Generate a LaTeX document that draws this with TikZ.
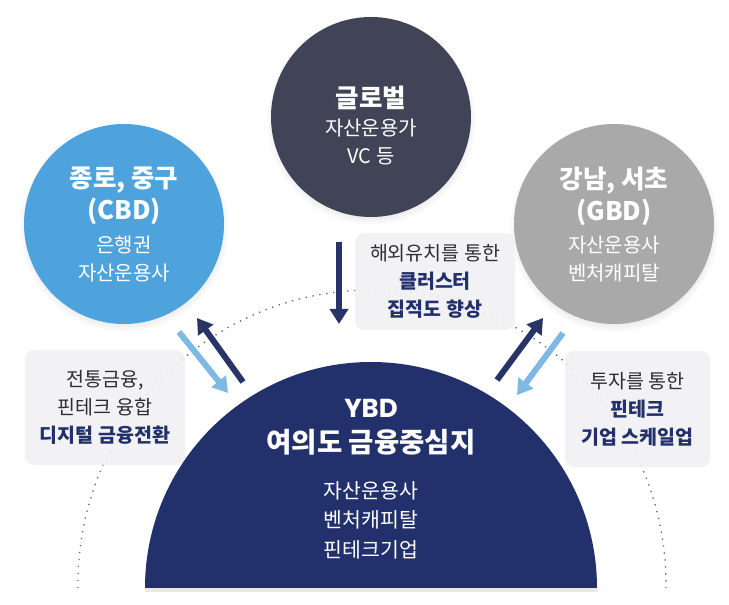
\documentclass[tikz,border=0pt]{standalone}
\usepackage{fontspec}
\setmainfont{Noto Sans CJK KR}
\newfontfamily\latinhead{Poppins}
\usetikzlibrary{arrows.meta,shadows}
\definecolor{navy}{HTML}{22306B}
\definecolor{darkarrow}{HTML}{283466}
\definecolor{lightarrow}{HTML}{7DB9E3}
\definecolor{cbdblue}{HTML}{4EA3DD}
\definecolor{gbdgrey}{HTML}{A9A9A9}
\definecolor{globalgrey}{HTML}{404456}
\definecolor{boxgrey}{HTML}{F1F1F3}
\definecolor{textdark}{HTML}{2E2E2E}
\definecolor{dotcol}{HTML}{5C6078}
\tikzset{
  bubble/.style={circle, minimum size=200pt, inner sep=0pt,
    circular drop shadow={shadow xshift=0pt, shadow yshift=-3pt, shadow scale=1.05, opacity=0.25}},
  bubtitle/.style={text=white, align=center, font=\bfseries\fontsize{25.5}{32}\selectfont},
  bubsub/.style={text=white, align=center, font=\fontsize{20}{28}\selectfont},
  infobox/.style={rectangle, rounded corners=9pt, fill=boxgrey, fill opacity=0.9, text opacity=1,
    inner sep=0pt, text=textdark, align=center, font=\fontsize{19.5}{28}\selectfont},
  darr/.style={draw=darkarrow, line width=6pt, -{Triangle[width=18pt,length=15pt]}},
  larr/.style={draw=lightarrow, line width=6pt, -{Triangle[width=18pt,length=15pt]}},
  dotline/.style={draw=dotcol, line width=1.3pt, dash pattern=on 1.3pt off 5.7pt},
}
\newcommand{\hlt}[1]{{\bfseries\color{navy}#1}}
\begin{document}
\begin{tikzpicture}[x=1pt,y=1pt]
\fill[white] (0,0) rectangle (729,605);
\useasboundingbox (0,0) rectangle (729,605);

% dotted arc
\draw[dotline] (78.03,16.9) arc[start angle=180.8, end angle=-0.8, radius=294];

% semicircle YBD
\fill[navy, drop shadow={opacity=0.18, shadow xshift=0pt, shadow yshift=-4pt}]
  (145,17) arc[start angle=180, end angle=0, radius=226] -- cycle;
\node[text=white, font=\latinhead\bfseries\fontsize{26}{30}\selectfont] (ybd) at (371,197) {YBD};
\node[text=white, font=\bfseries\fontsize{27.5}{34}\selectfont] (ybdname) at (371,163) {여의도 금융중심지};
\node[text=white, align=center, font=\fontsize{20.5}{29.5}\selectfont] (ybdlist) at (371,85) {자산운용사\\벤처캐피탈\\핀테크기업};

% circles
\node[bubble, fill=globalgrey] (glob) at (371,488) {};
\node[bubtitle] (globt) at (371,507) {글로벌};
\node[bubsub] (globs) at (371,463.5) {자산운용가\\VC 등};

\node[bubble, fill=cbdblue] (cbd) at (124,381) {};
\node[bubtitle] (cbdt) at (124,409) {종로, 중구\\(CBD)};
\node[bubsub] (cbds) at (124,346) {은행권\\자산운용사};

\node[bubble, fill=gbdgrey] (gbd) at (614,381) {};
\node[bubtitle] (gbdt) at (614,409) {강남, 서초\\(GBD)};
\node[bubsub] (gbds) at (614,346) {자산운용사\\벤처캐피탈};

% info boxes
\node[infobox, minimum width=160pt, minimum height=115pt] (lbox) at (105,197.5)
  {전통금융,\\핀테크 융합\\\hlt{디지털 금융전환}};
\node[infobox, minimum width=145pt, minimum height=116pt] (rbox) at (637.5,196)
  {투자를 통한\\\hlt{핀테크}\\\hlt{기업 스케일업}};
\node[infobox, minimum width=160pt, minimum height=97pt] (cbox) at (435,323.5)
  {해외유치를 통한\\\hlt{클러스터}\\\hlt{집적도 향상}};

% arrow endpoints
\coordinate (ctail) at (339,363);
\coordinate (ctip) at (339,281);
\coordinate (lltail) at (179,273);
\coordinate (lltip) at (228,212);
\coordinate (ldtail) at (243,223);
\coordinate (ldtip) at (197,287);
\coordinate (rdtail) at (497,225);
\coordinate (rdtip) at (543,287);
\coordinate (rltail) at (563,272);
\coordinate (rltip) at (517,210);

\draw[darr] (ctail) -- (ctip);
\draw[larr] (lltail) -- (lltip);
\draw[darr] (ldtail) -- (ldtip);
\draw[darr] (rdtail) -- (rdtip);
\draw[larr] (rltail) -- (rltip);
\end{tikzpicture}
\end{document}
